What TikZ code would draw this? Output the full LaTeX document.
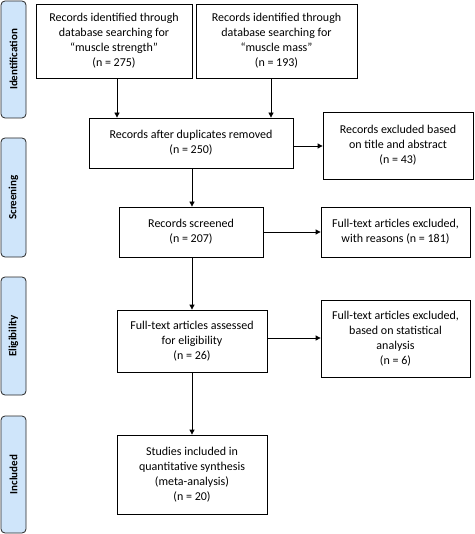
\documentclass[tikz,border=0pt]{standalone}
\usepackage{fontspec}
\setmainfont{Carlito}
\usetikzlibrary{arrows.meta}
\definecolor{phaseblue}{HTML}{CFE5FA}
\begin{document}
\begin{tikzpicture}[x=1pt, y=-1pt,
  flowbox/.style={shape=rectangle, draw=black, thick, align=center, inner sep=2pt, font=\fontsize{12}{15}\selectfont},
  phase/.style={shape=rectangle, draw=black!85, thick, fill=phaseblue, rounded corners=4pt, minimum height=25pt, inner sep=0pt, font=\bfseries\fontsize{11}{13}\selectfont},
  flow/.style={-{Triangle[length=5pt,width=5pt]}, thick, draw=black}]
\useasboundingbox (0,0) rectangle (474,534);
% phases on the left
\node[phase, minimum width=117pt, rotate=90] (P1) at (13.5, 59.5) {Identification};
\node[phase, minimum width=119pt, rotate=90] (P2) at (13.5, 197.5) {Screening};
\node[phase, minimum width=118pt, rotate=90] (P3) at (13.5, 336) {Eligibility};
\node[phase, minimum width=117pt, rotate=90] (P4) at (13.5, 474.5) {Included};
% boxes
\node[flowbox, minimum width=156pt, minimum height=74pt] (A) at (114, 41) {Records identified through\\database searching for\\``muscle strength''\\(n = 275)};
\node[flowbox, minimum width=161pt, minimum height=74pt] (B) at (276.5, 41) {Records identified through\\database searching for\\``muscle mass''\\(n = 193)};
\node[flowbox, minimum width=204pt, minimum height=50pt] (C) at (191, 143) {Records after duplicates removed\\(n = 250)};
\node[flowbox, minimum width=150pt, minimum height=67pt] (D) at (398, 145.5) {Records excluded based\\on title and abstract\\(n = 43)};
\node[flowbox, minimum width=144pt, minimum height=50pt] (E) at (191, 232) {Records screened\\(n = 207)};
\node[flowbox, minimum width=149pt, minimum height=50pt] (F) at (395.5, 232) {Full-text articles excluded,\\with reasons (n = 181)};
\node[flowbox, minimum width=150pt, minimum height=62pt] (G) at (192, 341) {Full-text articles assessed\\for eligibility\\(n = 26)};
\node[flowbox, minimum width=149pt, minimum height=77pt] (H) at (395.5, 338.5) {Full-text articles excluded,\\based on statistical\\analysis\\(n = 6)};
\node[flowbox, minimum width=150pt, minimum height=79pt] (I) at (192, 474.5) {Studies included in\\quantitative synthesis\\(meta-analysis)\\(n = 20)};
% arrows
\draw[flow] (A.south -| 117,0) -- (C.north -| 117,0);
\draw[flow] (B.south -| 271,0) -- (C.north -| 271,0);
\draw[flow] (C.east |- 0,146) -- (D.west |- 0,146);
\draw[flow] (C.south -| 192,0) -- (E.north -| 192,0);
\draw[flow] (E) -- (F);
\draw[flow] (E.south -| 192,0) -- (G.north -| 192,0);
\draw[flow] (G.east |- 0,338) -- (H.west |- 0,338);
\draw[flow] (G) -- (I);
\end{tikzpicture}
\end{document}
